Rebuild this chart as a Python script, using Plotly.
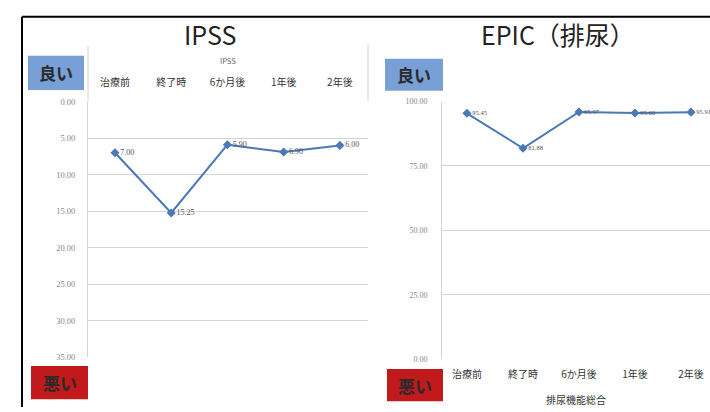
import plotly.graph_objects as go

# --- data -------------------------------------------------------------
periods = ["治療前", "終了時", "6か月後", "1年後", "2年後"]
ipss_values = [7.00, 15.25, 5.90, 6.90, 6.00]
epic_values = [95.45, 81.88, 95.97, 95.60, 95.91]
ipss_ticks = [0, 5, 10, 15, 20, 25, 30, 35]
epic_ticks = [0, 25, 50, 75, 100]

W, H = 710, 412
FONT = "Noto Sans CJK JP"
SERIF = "Liberation Serif"
LINE_COLOR = "#4a78b8"
GRID = "#d4d4d4"


def px(x):
    return x / W


def py(y):
    return 1 - y / H


fig = go.Figure()

fig.add_trace(go.Scatter(
    x=periods, y=ipss_values, xaxis="x", yaxis="y",
    mode="lines+markers+text",
    line=dict(color=LINE_COLOR, width=2),
    marker=dict(symbol="diamond", size=7, color=LINE_COLOR),
    text=[f"{v:.2f}" for v in ipss_values], textposition="middle right",
    textfont=dict(size=8, color="#555555", family=SERIF),
    cliponaxis=False, showlegend=False,
))

fig.add_trace(go.Scatter(
    x=periods, y=epic_values, xaxis="x2", yaxis="y2",
    mode="lines+markers+text",
    line=dict(color=LINE_COLOR, width=2),
    marker=dict(symbol="diamond", size=7, color=LINE_COLOR),
    text=[f"{v:.2f}" for v in epic_values], textposition="middle right",
    textfont=dict(size=6.5, color="#555555", family=SERIF),
    cliponaxis=False, showlegend=False,
))

catfont = dict(size=10, color="#333333", family=FONT)

fig.update_layout(
    width=W, height=H,
    margin=dict(l=0, r=0, t=0, b=0),
    paper_bgcolor="white", plot_bgcolor="white",
    font=dict(family=FONT),
    xaxis=dict(
        domain=[px(88), px(368)], anchor="y", type="category",
        categoryorder="array", categoryarray=periods,
        range=[-0.48, 4.5], side="top", showgrid=False,
        tickfont=catfont, ticks="", ticklabelstandoff=13,
        showline=False, zeroline=False,
    ),
    yaxis=dict(
        domain=[py(361), py(99)], anchor="x",
        range=[35, 0], tickvals=ipss_ticks, tickformat=".2f",
        tickfont=dict(size=8.5, color="#888888", family=SERIF),
        showgrid=True, gridcolor=GRID, gridwidth=1,
        showline=True, linecolor=GRID, linewidth=1,
        ticks="", ticklabelstandoff=10, zeroline=False,
    ),
    xaxis2=dict(
        domain=[px(442), 1], anchor="y2", type="category",
        categoryorder="array", categoryarray=periods,
        range=[-0.446, 4.34], side="bottom", showgrid=False,
        tickfont=catfont, ticks="", ticklabelstandoff=8,
        showline=False, zeroline=False,
        title=dict(text="排尿機能総合", font=dict(size=10, color="#333333", family=FONT),
                   standoff=16),
    ),
    yaxis2=dict(
        domain=[py(363), py(99)], anchor="x2",
        range=[0, 100], tickvals=epic_ticks, tickformat=".2f",
        tickfont=dict(size=8, color="#888888", family=SERIF),
        showgrid=True, gridcolor=GRID, gridwidth=1,
        showline=True, linecolor=GRID, linewidth=1,
        ticks="", ticklabelstandoff=12, zeroline=False,
    ),
)

shapes = []
annotations = []

# outer frame
shapes.append(dict(type="line", xref="paper", yref="paper",
                   x0=px(22), x1=px(22), y0=py(12), y1=py(412),
                   line=dict(color="black", width=2)))
shapes.append(dict(type="line", xref="paper", yref="paper",
                   x0=px(22), x1=1, y0=py(12), y1=py(12),
                   line=dict(color="black", width=2)))

# chart box edges
shapes.append(dict(type="line", xref="paper", yref="paper",
                   x0=px(88), x1=px(88), y0=py(42), y1=py(99),
                   line=dict(color=GRID, width=1)))
shapes.append(dict(type="line", xref="paper", yref="paper",
                   x0=px(368), x1=px(368), y0=py(40), y1=py(99),
                   line=dict(color=GRID, width=1)))


def badge(x0, x1, y0, y1, fill, label):
    shapes.append(dict(type="rect", xref="paper", yref="paper",
                       x0=px(x0), x1=px(x1), y0=py(y1), y1=py(y0),
                       fillcolor=fill, line=dict(width=0), layer="above"))
    annotations.append(dict(text=f"<b>{label}</b>", xref="paper", yref="paper",
                            x=px((x0 + x1) / 2), y=py((y0 + y1) / 2),
                            showarrow=False, xanchor="center", yanchor="middle",
                            font=dict(size=17, color="#2a2a2a", family=FONT)))


badge(28, 84, 52, 87, "#78a0d6", "良い")
badge(31, 88, 370, 404, "#c21a1c", "悪い")
badge(385, 443, 55, 88, "#78a0d6", "良い")
badge(387, 443, 373, 406, "#c21a1c", "悪い")

# titles
annotations.append(dict(text="IPSS", xref="paper", yref="paper",
                        x=px(210), y=py(30), showarrow=False,
                        xanchor="center", yanchor="middle",
                        font=dict(size=25, color="#222222", family=FONT)))
annotations.append(dict(text="EPIC（排尿）", xref="paper", yref="paper",
                        x=px(558), y=py(30), showarrow=False,
                        xanchor="center", yanchor="middle",
                        font=dict(size=25, color="#222222", family=FONT)))
annotations.append(dict(text="IPSS", xref="paper", yref="paper",
                        x=px(228), y=py(57), showarrow=False,
                        xanchor="center", yanchor="middle",
                        font=dict(size=7.5, color="#666666", family=FONT)))

fig.update_layout(shapes=shapes, annotations=annotations)

fig.write_html("out.html")
